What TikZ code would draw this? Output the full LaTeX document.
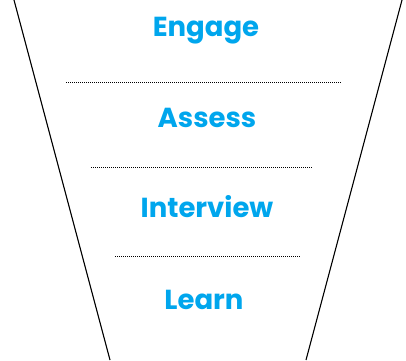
\documentclass[tikz,border=0pt]{standalone}
\usepackage{fontspec}
\setmainfont{Poppins}
\definecolor{stageblue}{RGB}{0,166,237}

\begin{document}
\begin{tikzpicture}[x=1pt, y=-1pt,
    stage/.style={text=stageblue, font=\fontsize{27.5}{30}\selectfont\bfseries, anchor=base},
    divider/.style={densely dotted, line width=1pt}]
    \useasboundingbox (0,0) rectangle (406,360);
    % funnel sides
    \draw[line width=1.1pt] (14,0) -- (110,360);
    \draw[line width=1.1pt] (402,0) -- (306,360);
    \node[stage] (engage) at (206,36) {Engage};
    \draw[divider] (66,82) -- (341,82);
    \node[stage] (assess) at (207,127) {Assess};
    \draw[divider] (91,167.5) -- (313,167.5);
    \node[stage] (interview) at (207,217) {Interview};
    \draw[divider] (115,256) -- (300,256);
    \node[stage] (learn) at (204,309) {Learn};
\end{tikzpicture}
\end{document}
